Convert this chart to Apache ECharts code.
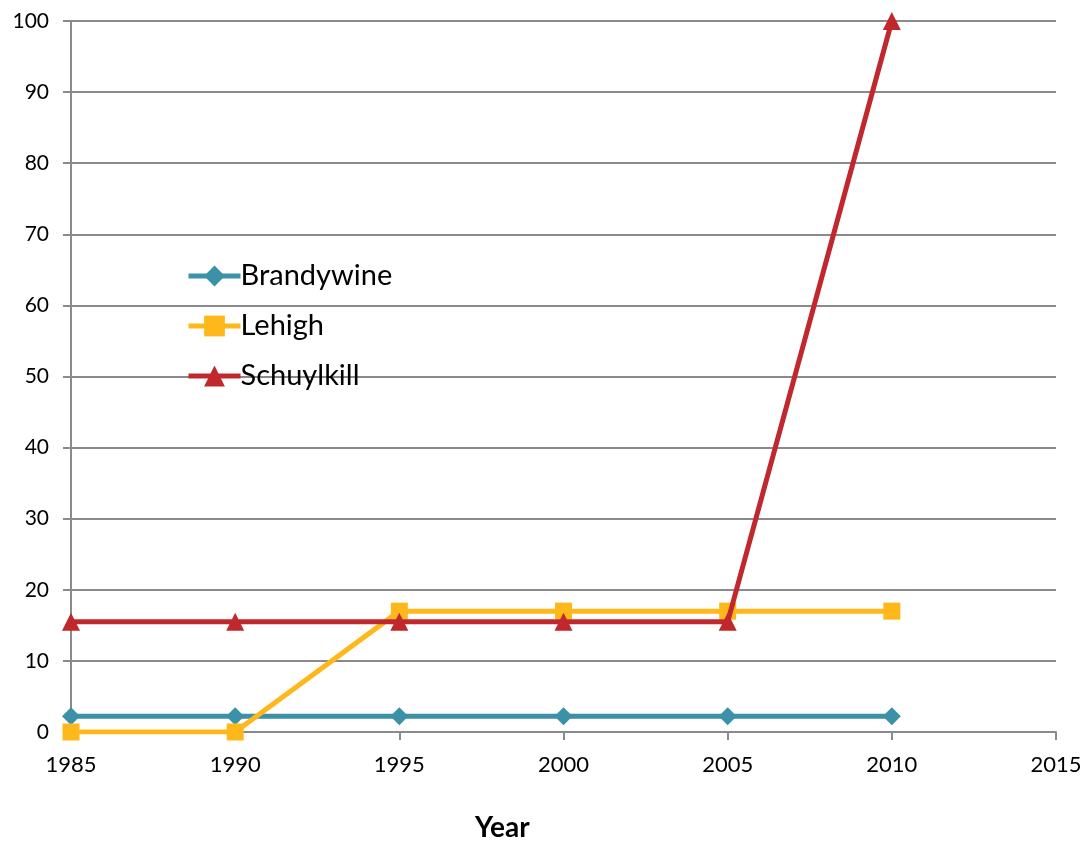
<!DOCTYPE html>
<html><head><meta charset="utf-8">
<script src="https://cdn.jsdelivr.net/npm/echarts@6/dist/echarts.min.js"></script>
<style>html,body{margin:0;padding:0;background:#fff}#c{width:1088px;height:844px}</style>
</head><body><div id="c"></div>
<script>
const years = [1985, 1990, 1995, 2000, 2005, 2010];
const brandywine = [2.2, 2.2, 2.2, 2.2, 2.2, 2.2];
const lehigh = [0, 0, 17, 17, 17, 17];
const schuylkill = [15.5, 15.5, 15.5, 15.5, 15.5, 100];
const seriesNames = ['Brandywine', 'Lehigh', 'Schuylkill'];
const axisTitle = 'Year';

const font = 'Lato, "Liberation Sans", sans-serif';
const grey = '#8a8a8a';
const pair = (v) => years.map((y, i) => [y, v[i]]);

const chart = echarts.init(document.getElementById('c'));
chart.setOption({
  animation: false,
  backgroundColor: '#fff',
  grid: { left: 71, right: 32, top: 21, bottom: 112 },
  legend: {
    orient: 'vertical', left: 181, top: 255,
    itemWidth: 52, itemHeight: 26, itemGap: 18,
    lineStyle: { width: 5 },
    textStyle: { fontFamily: font, fontSize: 29, color: '#000', lineHeight: 32, padding: [0, 0, 0, -5] },
    data: seriesNames
  },
  xAxis: {
    type: 'value', min: 1985, max: 2015, interval: 5,
    axisLine: { show: true, lineStyle: { color: grey, width: 2 } },
    axisTick: { show: true, length: 8, lineStyle: { color: grey, width: 2 } },
    splitLine: { show: false },
    axisLabel: { fontFamily: font, fontSize: 22, color: '#000', margin: 22, formatter: (v) => String(v) }
  },
  yAxis: {
    type: 'value', min: 0, max: 100, interval: 10,
    axisLine: { show: true, lineStyle: { color: grey, width: 2 } },
    axisTick: { show: true, length: 8, lineStyle: { color: grey, width: 2 } },
    splitLine: { show: true, lineStyle: { color: grey, width: 2 } },
    axisLabel: { fontFamily: font, fontSize: 21, color: '#000', margin: 22 }
  },
  graphic: [{
    type: 'text', left: 475, top: 814,
    style: { text: axisTitle, font: 'bold 28px ' + font, fill: '#000' }
  }],
  series: [
    { name: seriesNames[0], type: 'line', data: pair(brandywine), symbol: 'diamond', symbolSize: 18,
      lineStyle: { width: 5, color: '#3a91a8' }, itemStyle: { color: '#3a91a8' }, z: 3 },
    { name: seriesNames[1], type: 'line', data: pair(lehigh), symbol: 'rect', symbolSize: 17,
      lineStyle: { width: 5, color: '#ffb81c' }, itemStyle: { color: '#ffb81c' }, z: 4 },
    { name: seriesNames[2], type: 'line', data: pair(schuylkill), symbol: 'triangle', symbolSize: 18,
      lineStyle: { width: 5, color: '#c0282d' }, itemStyle: { color: '#c0282d' }, z: 5 }
  ]
});
</script></body></html>
